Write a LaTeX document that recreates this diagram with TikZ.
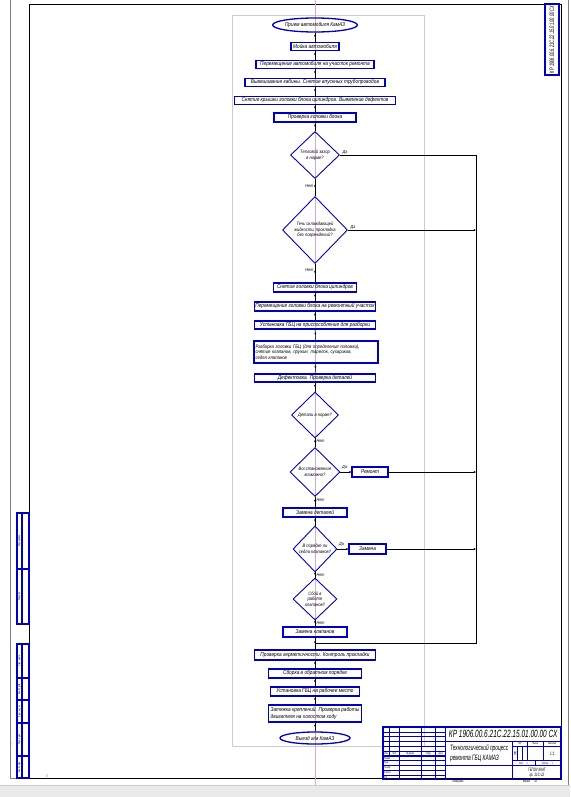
\documentclass[tikz,border=0pt]{standalone}
\usepackage{fontspec}
\setmainfont{Liberation Sans}[FakeStretch=0.85]
\newfontfamily\gostfont{Liberation Sans}[FakeStretch=0.62]
\usetikzlibrary{positioning,shapes.geometric,arrows.meta,decorations.markings}
\definecolor{inkblue}{HTML}{0000C0}
\definecolor{guide}{HTML}{D8A8D8}
\definecolor{panelgrey}{HTML}{CCCCCC}
\definecolor{sheetgrey}{HTML}{EAEAEA}
\tikzset{
  blk/.style={draw=inkblue,line width=1.3pt,font=\fontsize{5.6}{6.4}\selectfont\itshape,inner sep=0.6pt,align=center,minimum height=8pt},
  term/.style={ellipse,draw=inkblue,line width=1.3pt,font=\fontsize{5.6}{6.4}\selectfont\itshape,inner sep=0pt},
  ask/.style={diamond,draw=inkblue,line width=0.9pt,font=\fontsize{4.8}{5.6}\selectfont\itshape,inner sep=0pt,align=center},
  lbl/.style={font=\fontsize{4.4}{5}\selectfont\itshape,inner sep=0.5pt},
  flow/.style={line width=0.5pt,postaction={decorate},decoration={markings,mark=at position 0.5 with {\arrow{Stealth[length=2.4pt,width=2pt]}}}},
  side/.style={line width=0.5pt,-{Stealth[length=2.4pt,width=2pt]}},
  tb/.style={draw=inkblue,line width=1.1pt},
  tbthin/.style={draw=inkblue,line width=0.5pt},
  tbtxt/.style={font=\gostfont\fontsize{3}{3.5}\selectfont,inner sep=0pt},
}

\begin{document}
\begin{tikzpicture}[x=1pt,y=-1pt]
\useasboundingbox (0,0) rectangle (570,797);
\fill[white] (0,0) rectangle (570,797);
% sheet, frame, guides
\fill[sheetgrey] (0,785) rectangle (570,797);
\draw[panelgrey,line width=0.4pt] (0,785) -- (570,785);
\draw[gray,line width=0.3pt] (10,0) -- (10,778) -- (29,778);
\draw[gray,line width=0.3pt] (568,0) -- (568,785);
\draw[line width=0.6pt] (29,4) rectangle (561,778);
\draw[panelgrey,line width=0.5pt] (232,15) rectangle (424,746);
\draw[guide,line width=0.4pt] (315,0) -- (315,785);
\node[font=\fontsize{4}{4}\selectfont,text=gray,inner sep=0pt] (ucsy) at (11,745) {Y};
\node[font=\fontsize{4}{4}\selectfont,text=gray,inner sep=0pt] (ucsx) at (47,776) {X};

% flowchart
\node[term,minimum width=78pt,minimum height=14pt] (start) at (315,25) {Прием автомобиля КамАЗ};
\node[blk,minimum width=48pt] (b1) at (315,46.5) {Мойка автомобиля};
\node[blk,minimum width=118pt] (b2) at (315,64.5) {Перемещение автомобиля на участок ремонта};
\node[blk,minimum width=140pt] (b3) at (315,82.5) {Вывешивание кабины. Снятие впускных трубопроводов};
\node[blk,minimum width=161pt] (b4) at (315,100.5) {Снятие крышки головки блока цилиндров. Выявление дефектов};
\node[blk,minimum width=82pt,minimum height=9pt] (b5) at (315,117.5) {Проверка головки блока};
\node[ask,minimum width=49pt,minimum height=47pt] (d1) at (315,155) {Тепловой зазор\\в норме?};
\node[ask,minimum width=65pt,minimum height=67pt] (d2) at (315,230) {Течь охлаждающей\\жидкости, прокладка\\без повреждений?};
\node[blk,minimum width=83pt,minimum height=9pt] (b6) at (315,287.5) {Снятие головки блока цилиндров};
\node[blk,minimum width=120pt,minimum height=9pt] (b7) at (315,306.5) {Перемещение головки блока на ремонтный участок};
\node[blk,minimum width=121pt] (b8) at (315,325) {Установка ГБЦ на приспособление для разборки};
\node[blk,minimum width=124pt,minimum height=22pt,align=left,text width=121pt,font=\fontsize{5}{5.8}\selectfont\itshape] (b9) at (316,352) {Разборка головки ГБЦ (для определения поломки),\\снятие клапанов, пружин, тарелок, сухариков,\\седел клапанов};
\node[blk,minimum width=121pt] (b10) at (315,378) {Дефектовка. Проверка деталей};
\node[ask,minimum width=47pt,minimum height=46pt] (d3) at (315,415) {Детали в норме?};
\node[ask,minimum width=50pt,minimum height=49pt] (d4) at (315,472) {Восстановление\\возможно?};
\node[blk,minimum width=36pt,minimum height=10pt,right=11pt of d4] (r1) {Ремонт};
\node[blk,minimum width=64pt,minimum height=9pt] (b11) at (315,512.5) {Замена деталей};
\node[ask,minimum width=44pt,minimum height=46pt] (d5) at (315,549) {В порядке ли\\седла клапанов?};
\node[blk,minimum width=37pt,minimum height=10pt,right=11pt of d5] (r2) {Замена};
\node[ask,minimum width=44pt,minimum height=42pt] (d6) at (315,599) {Сбой в\\работе\\клапанов?};
\node[blk,minimum width=64pt,minimum height=10pt] (b12) at (315,632) {Замена клапанов};
\node[blk,minimum width=121pt,minimum height=10pt] (b13) at (315,655) {Проверка герметичности. Контроль прокладки};
\node[blk,minimum width=93pt,minimum height=9pt] (b14) at (315,673.5) {Сборка в обратном порядке};
\node[blk,minimum width=89pt,minimum height=9pt] (b15) at (315,691.5) {Установка ГБЦ на рабочее место};
\node[blk,minimum width=93pt,minimum height=17pt,align=left] (b16) at (315,713.5) {Затяжка креплений. Проверка работы\\двигателя на холостом ходу};
\node[term,minimum width=70pt,minimum height=12pt] (stop) at (315,738) {Выезд а/м КамАЗ};

\foreach \a/\b in {start/b1,b1/b2,b2/b3,b3/b4,b4/b5,b5/d1,d1/d2,d2/b6,b6/b7,b7/b8,b8/b9,b9/b10,b10/d3,d3/d4,d4/b11,b11/d5,d5/d6,d6/b12,b12/b13,b13/b14,b14/b15,b15/b16,b16/stop}
  \draw[flow] (\a) -- (\b);

% answers
\node[lbl,above right=0pt and 2pt of d1.east] (d1yes) {Да};
\node[lbl,below left=5pt and 1pt of d1.south] (d1no) {Нет};
\node[lbl,above right=0pt and 2pt of d2.east] (d2yes) {Да};
\node[lbl,below left=4pt and 1pt of d2.south] (d2no) {Нет};
\node[lbl,below right=0.5pt and 1pt of d3.south] (d3no) {Нет};
\node[lbl,above right=2pt and 1pt of d4.east] (d4yes) {Да};
\node[lbl,below right=0.5pt and 1pt of d4.south] (d4no) {Нет};
\node[lbl,above right=2pt and 1pt of d5.east] (d5yes) {Да};
\node[lbl,below right=0.5pt and 1pt of d5.south] (d5no) {Нет};
\node[lbl,below right=0.5pt and 1pt of d6.south] (d6no) {Нет};

% return line
\coordinate (bus) at (476,643);
\coordinate (join) at (315,643);
\draw[line width=0.5pt] (d1.east) -- (d1.east -| bus) -- (bus) -- (join);
\draw[side] (d2.east) -- (d2.east -| bus);
\draw[side] (d4.east) -- (r1.west);
\draw[side] (r1.east) -- (r1.east -| bus);
\draw[side] (d5.east) -- (r2.west);
\draw[side] (r2.east) -- (r2.east -| bus);

% stamp top right
\draw[tb] (545,4) rectangle (559,75);
\node[rotate=90,font=\gostfont\fontsize{6.5}{6.5}\selectfont\itshape,inner sep=0pt] (stamp) at (552,39.5) {КР 1906.00.6.21С.22.15.01.00.00 СХ};

% left strip
\draw[tb] (17,513) rectangle (29,624);
\draw[tb] (17,644) rectangle (29,778);
\draw[tb] (22,513) -- (22,624);
\draw[tb] (22,644) -- (22,778);
\foreach \ya/\yb/\txt [count=\i] in {513/569/{Перв. примен.},569/624/{Справ. №},644/678/{Подп. и дата},678/700/{Инв. № дубл.},700/723/{Взам. инв. №},723/756/{Подп. и дата},756/778/{Инв. № подл.}}{
  \draw[tb] (17,\yb) -- (29,\yb);
  \node[tbtxt,rotate=90,font=\gostfont\fontsize{2.8}{3}\selectfont] (strip\i) at (19.5,{(\ya+\yb)/2}) {\txt};
}

% title block
\begin{scope}[shift={(383,727)},x=0.962pt,y=-0.962pt]
  \foreach \y in {5,10,15,20,30,35,40,45,50}
    \draw[tbthin] (0,\y) -- (65,\y);
  \draw[tb] (0,25) -- (65,25);
  \draw[tb] (0,30) -- (65,30);
  \draw[tb] (7,0) -- (7,30);
  \foreach \x in {17,40,55,65}
    \draw[tb] (\x,0) -- (\x,55);
  \draw[tb] (65,15) -- (185,15);
  \draw[tb] (65,40) -- (185,40);
  \draw[tb] (135,15) -- (135,55);
  \draw[tb] (135,20) -- (185,20);
  \draw[tb] (135,35) -- (185,35);
  \draw[tb] (150,15) -- (150,35);
  \draw[tb] (167,15) -- (167,35);
  \draw[tbthin] (140,20) -- (140,35);
  \draw[tbthin] (145,20) -- (145,35);
  \draw[tbthin] (158,35) -- (158,40);
  \draw[tb] (0,0) rectangle (185,55);
  \node[tbtxt,font=\gostfont\fontsize{10.5}{11}\selectfont\itshape] (tbdes) at (125,7.5) {КР 1906.00.6.21С.22.15.01.00.00 СХ};
  \node[tbtxt,font=\gostfont\fontsize{7.8}{9.5}\selectfont\itshape,align=left] (tbname) at (100,27.5) {Технологический процесс\\ремонта ГБЦ КАМАЗ};
  \node[tbtxt] (tblit) at (142.5,17.5) {Лит.};
  \node[tbtxt] (tbmass) at (158.5,17.5) {Масса};
  \node[tbtxt] (tbscale) at (176,17.5) {Масштаб};
  \node[tbtxt,font=\gostfont\fontsize{6}{6}\selectfont] (tbletter) at (137.5,27.5) {Н};
  \node[tbtxt,font=\gostfont\fontsize{5}{5}\selectfont] (tbratio) at (176,27.5) {1:1};
  \node[tbtxt] (tbsheet) at (146,37.5) {Лист \quad 1};
  \node[tbtxt] (tbsheets) at (171,37.5) {Листов \quad 1};
  \node[tbtxt,font=\gostfont\fontsize{4.8}{5.4}\selectfont\itshape,align=center] (tborg) at (160,47.5) {ГБПОУ ККАТ\\гр. 21С-22};
  \node[tbtxt] (tbizm) at (3.5,27.5) {Изм.};
  \node[tbtxt] (tblist) at (12,27.5) {Лист};
  \node[tbtxt] (tbdoc) at (28.5,27.5) {№ докум.};
  \node[tbtxt] (tbsign) at (47.5,27.5) {Подп.};
  \node[tbtxt] (tbdate) at (60,27.5) {Дата};
  \foreach \y/\txt [count=\i] in {32.5/Разраб.,37.5/Пров.,42.5/Т.контр.,47.5/Н.контр.,52.5/Утв.}
    \node[tbtxt,anchor=west] (tbrole\i) at (0.8,\y) {\txt};
\end{scope}
\node[tbtxt,font=\gostfont\fontsize{3.5}{4}\selectfont] (copied) at (458,782) {Копировал};
\node[tbtxt,font=\gostfont\fontsize{3.5}{4}\selectfont] (format) at (530,782) {Формат \quad А1};
\end{tikzpicture}
\end{document}
